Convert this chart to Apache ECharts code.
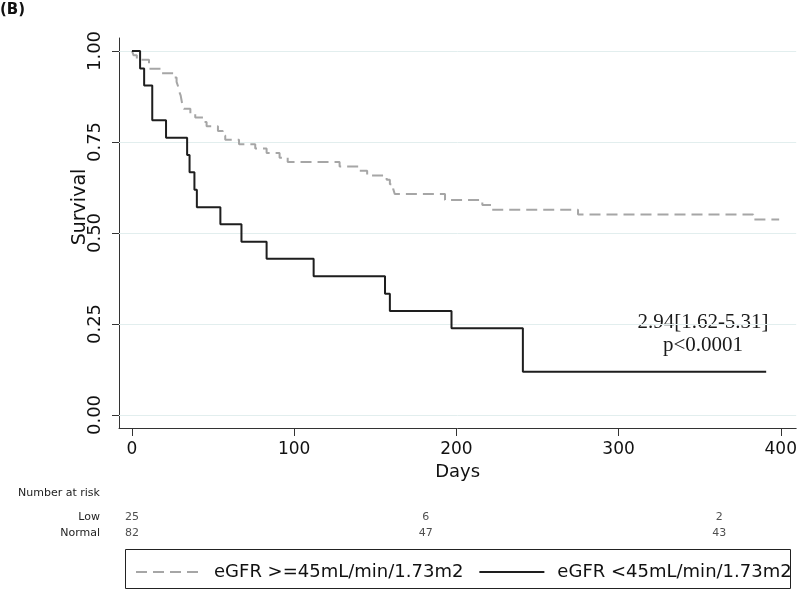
<!DOCTYPE html>
<html>
<head>
<meta charset="utf-8">
<script src="https://cdn.jsdelivr.net/npm/echarts@6/dist/echarts.min.js"></script>
<style>
  html, body { margin: 0; padding: 0; background: #fff; }
  #chart { width: 800px; height: 590px; }
</style>
</head>
<body>
<div id="chart"></div>
<script>
// ---- data ----
const xTicks = [0, 100, 200, 300, 400];
const yTicks = [0, 0.25, 0.5, 0.75, 1];

// eGFR <45 (Low) – Kaplan-Meier steps
const lowDays = [0, 5, 7.5, 12.5, 21, 34, 35.5, 38.5, 40, 54.5, 67.5, 83, 112, 156, 159, 197, 241, 391];
const lowSurv = [1, 0.952, 0.905, 0.810, 0.762, 0.714, 0.667, 0.619, 0.571, 0.524, 0.476, 0.429, 0.381, 0.333, 0.286, 0.238, 0.119, 0.119];

// eGFR >=45 (Normal) – Kaplan-Meier steps
const normDays = [0, 1, 3, 10.5, 18, 26, 27.5, 28.5, 29, 30, 30.5, 31, 32, 36, 39, 44, 46, 53, 56, 57.5, 66, 76, 83, 91, 96, 128, 140, 145, 157, 159, 161, 162, 193, 216, 222, 275, 383, 399];
const normSurv = [1, 0.988, 0.976, 0.951, 0.939, 0.927, 0.915, 0.902, 0.890, 0.878, 0.866, 0.854, 0.841, 0.829, 0.817, 0.805, 0.793, 0.780, 0.768, 0.756, 0.744, 0.732, 0.720, 0.707, 0.695, 0.683, 0.671, 0.658, 0.646, 0.634, 0.622, 0.607, 0.591, 0.577, 0.564, 0.551, 0.537, 0.537];

// number at risk
const riskTimes = [0, 180, 360];
const riskGroups = ['Low', 'Normal'];
const riskLow = [25, 6, 2];
const riskNormal = [82, 47, 43];

const seriesNames = ['eGFR >=45mL/min/1.73m2', 'eGFR <45mL/min/1.73m2'];
const annotation = ['2.94[1.62-5.31]', 'p<0.0001'];

// ---- chart ----
const FONT = 'DejaVu Sans';
const chart = echarts.init(document.getElementById('chart'), null, { renderer: 'canvas' });

const riskData = [];
riskTimes.forEach((t, i) => {
  riskData.push([t, 0, riskLow[i]]);
  riskData.push([t, 1, riskNormal[i]]);
});

const option = {
  animation: false,
  backgroundColor: '#fff',
  grid: [
    { left: 119, right: 0, top: 38, height: 390 },
    { left: 119, right: 0, top: 509, height: 32 }
  ],
  xAxis: [
    {
      type: 'value', gridIndex: 0, min: -8, max: 409.5,
      name: 'Days', nameLocation: 'middle', nameGap: 34,
      nameTextStyle: { fontFamily: FONT, fontSize: 18, color: '#111' },
      axisLine: { show: true, onZero: false, lineStyle: { color: '#333', width: 1 } },
      axisTick: { show: true, length: 8, customValues: xTicks, lineStyle: { color: '#333' } },
      axisLabel: { customValues: xTicks, fontFamily: FONT, fontSize: 17, color: '#111', margin: 13 },
      splitLine: { show: false }
    },
    {
      type: 'value', gridIndex: 1, min: -8, max: 409.5, show: false
    }
  ],
  yAxis: [
    {
      type: 'value', gridIndex: 0, min: -0.0357, max: 1.0357,
      axisLine: { show: true, onZero: false, lineStyle: { color: '#333', width: 1 } },
      axisTick: { show: true, length: 7, customValues: yTicks, lineStyle: { color: '#333' } },
      axisLabel: {
        customValues: yTicks, rotate: 90, margin: 15,
        fontFamily: FONT, fontSize: 18, color: '#111',
        formatter: v => Number(v).toFixed(2)
      },
      splitLine: { show: false }
    },
    {
      type: 'category', gridIndex: 1, data: riskGroups, inverse: true,
      axisLine: { show: false }, axisTick: { show: false },
      axisLabel: { fontFamily: FONT, fontSize: 11, color: '#222', margin: 19 }
    }
  ],
  legend: {
    data: seriesNames,
    left: 135, top: 561, padding: 0,
    itemWidth: 65, itemHeight: 14, itemGap: 15,
    itemStyle: { opacity: 0 },
    textStyle: { fontFamily: FONT, fontSize: 18, color: '#111', lineHeight: 22, padding: [0, 0, 0, 8] }
  },
  series: [
    {
      name: seriesNames[0], type: 'line', step: 'end',
      xAxisIndex: 0, yAxisIndex: 0,
      symbol: 'none', showSymbol: false, z: 3,
      lineStyle: { color: '#a6a6a6', width: 2, type: [11, 6] },
      itemStyle: { color: '#a6a6a6' },
      data: normDays.map((d, i) => [d, normSurv[i]]),
      markLine: {
        silent: true, symbol: ['none', 'none'], z: 1,
        label: { show: false },
        lineStyle: { color: '#e2eeee', width: 1, type: 'solid' },
        data: yTicks.map(v => ({ yAxis: v }))
      }
    },
    {
      name: seriesNames[1], type: 'line', step: 'end',
      xAxisIndex: 0, yAxisIndex: 0,
      symbol: 'none', showSymbol: false, z: 4,
      lineStyle: { color: '#1e1e1e', width: 2, type: 'solid' },
      itemStyle: { color: '#1e1e1e' },
      data: lowDays.map((d, i) => [d, lowSurv[i]])
    },
    {
      name: 'risk', type: 'scatter', xAxisIndex: 1, yAxisIndex: 1,
      symbolSize: 0, silent: true,
      label: {
        show: true, position: 'inside',
        fontFamily: FONT, fontSize: 11, color: '#222',
        formatter: p => String(p.value[2])
      },
      data: riskData
    }
  ],
  graphic: [
    { type: 'text', x: 0, y: 3, style: { text: '(B)', fontFamily: FONT, fontWeight: 'bold', fontSize: 15, fill: '#111' } },
    { type: 'text', x: 80, y: 207, rotation: Math.PI / 2,
      style: { text: 'Survival', fontFamily: FONT, fontSize: 19, fill: '#111', align: 'center', verticalAlign: 'middle' } },
    { type: 'text', x: 18, y: 493,
      style: { text: 'Number at risk', fontFamily: FONT, fontSize: 11, fill: '#222', verticalAlign: 'middle' } },
    { type: 'text', x: 703, y: 322,
      style: { text: annotation[0], fontFamily: 'Liberation Serif', fontSize: 21, fill: '#1a1a1a', align: 'center', verticalAlign: 'middle' } },
    { type: 'text', x: 703, y: 345,
      style: { text: annotation[1], fontFamily: 'Liberation Serif', fontSize: 21, fill: '#1a1a1a', align: 'center', verticalAlign: 'middle' } },
    { type: 'rect', shape: { x: 125.5, y: 549.5, width: 665, height: 39 },
      style: { fill: 'none', stroke: '#222', lineWidth: 1 }, z: -1 }
  ]
};
chart.setOption(option);
</script>
</body>
</html>
